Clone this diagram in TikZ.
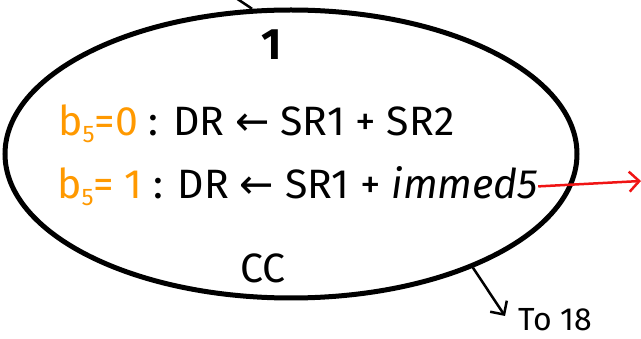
\documentclass[tikz,border=0pt]{standalone}
\usepackage{fontspec}
\setmainfont{Fira Sans}
\newfontfamily\arrowfont{DejaVu Sans}
\usetikzlibrary{shapes.geometric,arrows.meta}
\definecolor{bitorange}{RGB}{255,153,0}
\definecolor{arrred}{RGB}{240,20,20}
\newcommand{\bsub}[1]{b\raisebox{-0.3ex}{\fontsize{24}{24}\selectfont #1}}
\newcommand{\larr}{{\arrowfont ←}}
\tikzset{
  state/.style={ellipse, draw=black, line width=5pt, minimum width=572pt, minimum height=288pt, inner sep=0pt},
  txt/.style={font=\fontsize{41}{46}\selectfont, inner sep=0pt},
  conn/.style={line width=2.5pt, -{Straight Barb[length=10pt,width=20pt,line width=2.5pt]}},
}
\begin{document}
\begin{tikzpicture}[x=1pt,y=1pt]
\useasboundingbox (0,0) rectangle (641,-339);
\node[state] (s) at (291,-154) {};
\node[txt, font=\fontsize{44}{48}\selectfont\bfseries] (num) at (272,-45) {1};
\node[txt, anchor=base west] (l1) at (58,-136) {\textcolor{bitorange}{\bsub{5}=0} : DR \larr{} SR1 + SR2};
\node[txt, anchor=base west] (l2) at (57,-199) {\textcolor{bitorange}{\bsub{5}= 1} : DR \larr{} SR1 + \textit{immed5}};
\node[txt] (cc) at (263,-268) {CC};
\node[txt, font=\fontsize{32}{36}\selectfont, anchor=base west] (to) at (518,-331) {To 18};
\coordinate (topin) at (236,2);
\coordinate (toend) at (505,-316);
\coordinate (redend) at (641,-181);
\begin{scope}
\clip (0,0) rectangle (641,-339);
\draw[line width=2.5pt] (topin) -- (s.105);
\end{scope}
\draw[conn] (s.-32) -- (toend);
\draw[conn, draw=arrred] (l2.east) -- (redend);
\end{tikzpicture}
\end{document}
